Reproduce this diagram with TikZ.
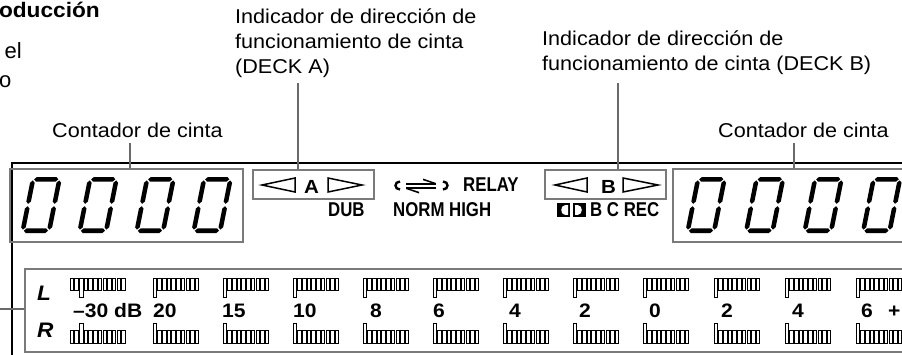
\documentclass[tikz,border=0pt]{standalone}
\usepackage{fontspec}
\setmainfont{Liberation Sans}
\usepackage{graphicx}
\definecolor{framegray}{HTML}{7A7A7A}
\definecolor{leadgray}{HTML}{6A6A6A}
\newcommand\wx[1]{\scalebox{1.08}[1]{#1}}
\newcommand\cx[1]{\scalebox{0.84}[1]{#1}}
\newcommand\hsegp[3]{\fill (#1,#3) -- ({#1+2.3},{#3-2.3}) -- ({#2-2.3},{#3-2.3}) -- (#2,#3) -- ({#2-2.3},{#3+2.3}) -- ({#1+2.3},{#3+2.3}) -- cycle;}
\newcommand\vsegp[3]{\fill (#1,#2) -- ({#1+2.3},{#2+2.3}) -- ({#1+2.3},{#3-2.3}) -- (#1,#3) -- ({#1-2.3},{#3-2.3}) -- ({#1-2.3},{#2+2.3}) -- cycle;}
\newcommand\digitzero[2]{%
  \begin{scope}[shift={(#1,#2)}, xslant=0.2]
    \hsegp{3.4}{27.6}{-53.7}
    \hsegp{3.4}{27.6}{-2.3}
    \vsegp{2.3}{-52.6}{-29.2}
    \vsegp{2.3}{-26.8}{-3.4}
    \vsegp{28.7}{-52.6}{-29.2}
    \vsegp{28.7}{-26.8}{-3.4}
  \end{scope}}
\newcommand\barsL[3]{\foreach \k in {0,...,#2}{%
  \pgfmathsetmacro\bx{#1+4.7*\k}%
  \ifnum\k=#3 \draw[barst] (\bx,278) rectangle ({\bx+3.5},297);%
  \else \draw[barst] (\bx,278) rectangle ({\bx+3.5},290);\fi}}
\newcommand\barsR[3]{\foreach \k in {0,...,#2}{%
  \pgfmathsetmacro\bx{#1+4.7*\k}%
  \ifnum\k=#3 \draw[barst] (\bx,323) rectangle ({\bx+3.5},343);%
  \else \draw[barst] (\bx,330) rectangle ({\bx+3.5},343);\fi}}
\tikzset{
  lbl/.style={font=\fontsize{20}{22}\selectfont, inner sep=0pt, anchor=base west},
  bld/.style={font=\fontsize{19.5}{22}\selectfont\bfseries, inner sep=0pt, anchor=base west},
  cnd/.style={font=\fontsize{20}{22}\selectfont\bfseries, inner sep=0pt, anchor=base west},
  leader/.style={draw=leadgray, line width=2pt},
  frame/.style={draw=framegray, line width=2.3pt, inner sep=0pt},
  panel/.style={draw=black, line width=2pt},
  barst/.style={draw=black, line width=0.8pt, fill=white},
  tri/.style={draw=black, line width=1.5pt, line join=miter},
}
\begin{document}
\begin{tikzpicture}[x=1pt, y=-1pt]
\useasboundingbox (0,0) rectangle (902,354);
% paragraph fragments
\node[font=\fontsize{21}{22}\selectfont\bfseries, inner sep=0pt, anchor=base east] (ttl) at (100,17) {\wx{oducción}};
\node[font=\fontsize{22}{22}\selectfont, inner sep=0pt, anchor=base east] (pel) at (22,58) {el};
\node[font=\fontsize{22}{22}\selectfont, inner sep=0pt, anchor=base east] (po) at (11.5,87) {o};
% labels
\node[lbl] (dA1) at (235,23) {\wx{Indicador de dirección de}};
\node[lbl] (dA2) at (235,48) {\wx{funcionamiento de cinta}};
\node[lbl] (dA3) at (235,73) {\wx{(DECK A)}};
\node[lbl] (dB1) at (542,45) {\wx{Indicador de dirección de}};
\node[lbl] (dB2) at (542,70) {\wx{funcionamiento de cinta (DECK B)}};
\node[lbl] (cL) at (52,137) {\wx{Contador de cinta}};
\node[lbl] (cR) at (718,137) {\wx{Contador de cinta}};
% panel
\coordinate (pTL) at (12,163);
\coordinate (pTR) at (904,163);
\coordinate (pBL) at (12,356);
\draw[panel] (pTR) -- (pTL) -- (pBL);
% boxes
\node[frame, minimum width=233pt, minimum height=73pt] (boxL) at (126.5,205.5) {};
\node[frame, minimum width=121pt, minimum height=29pt] (boxA) at (313.5,184.5) {};
\node[frame, minimum width=121pt, minimum height=29pt] (boxB) at (605.5,184.5) {};
\node[frame, minimum width=240pt, minimum height=73pt] (boxR) at (793,205.5) {};
\node[frame, minimum width=890pt, minimum height=83pt] (meter) at (470,310.5) {};
% leaders
\coordinate (lA) at (298,83);
\coordinate (lB) at (618,83);
\coordinate (lCL) at (130,143);
\coordinate (lCR) at (794,143);
\coordinate (lM) at (-2,309);
\draw[leader] (lA) -- (lA |- boxA.north);
\draw[leader] (lB) -- (lB |- boxB.north);
\draw[leader] (lCL) -- (lCL |- boxL.north);
\draw[leader] (lCR) -- (lCR |- boxR.north);
\draw[leader] (lM) -- (lM -| meter.west);
% counters
\digitzero{20}{233}\digitzero{77}{233}\digitzero{134}{233}\digitzero{191}{233}
\digitzero{685}{233}\digitzero{743.5}{233}\digitzero{802}{233}\digitzero{860.5}{233}
% deck A
\draw[tri] (262,185) -- (295,178) -- (295,192) -- cycle;
\draw[tri] (362,185) -- (328,178) -- (328,192) -- cycle;
\node[font=\fontsize{19}{20}\selectfont\bfseries, inner sep=0pt, anchor=base] (lA1) at (311.5,193) {\wx{A}};
\node[cnd] (dub) at (328,216.5) {\cx{DUB}};
% relay
\draw[line width=2.4pt] (400,181.5) .. controls (394,181.5) and (394,189.5) .. (400,189.5);
\draw[line width=2.4pt] (443,181.5) .. controls (449,181.5) and (449,189.5) .. (443,189.5);
\fill (406,183) -- (436,183) -- (436,185) -- (406,185) -- cycle;
\fill (436,183) -- (423,178.5) -- (423,180.2) -- (431.5,183) -- cycle;
\fill (406,187) -- (436,187) -- (436,189) -- (406,189) -- cycle;
\fill (406,189) -- (419,193.5) -- (419,191.8) -- (410.5,189) -- cycle;
\node[cnd] (relay) at (463,191.5) {\cx{RELAY}};
\node[cnd] (normhigh) at (393,216.5) {\cx{NORM HIGH}};
% deck B
\draw[tri] (555,185) -- (587,178) -- (587,192) -- cycle;
\draw[tri] (658,185) -- (623,178) -- (623,192) -- cycle;
\node[font=\fontsize{19}{20}\selectfont\bfseries, inner sep=0pt, anchor=base] (lB1) at (608.5,193) {\wx{B}};
\fill (557,203) rectangle (570,217);
\fill[white] (565,205.2) -- (568,205.2) -- (568,214.8) -- (565,214.8) .. controls (560,214.8) and (560,205.2) .. (565,205.2) -- cycle;
\fill (573,203) rectangle (586,217);
\fill[white] (575,205.2) -- (578,205.2) .. controls (583,205.2) and (583,214.8) .. (578,214.8) -- (575,214.8) -- cycle;
\node[cnd] (bcrec) at (590,216.5) {\cx{B C REC}};
% meter
\node[font=\fontsize{21}{22}\selectfont\bfseries\itshape, inner sep=0pt, anchor=base west] (mL) at (37,300) {\wx{L}};
\node[font=\fontsize{21}{22}\selectfont\bfseries\itshape, inner sep=0pt, anchor=base west] (mR) at (37,337) {\wx{R}};
\barsL{70}{11}{2}
\barsR{70}{11}{2}
\foreach \gx in {153,223,293,363,433,503,573,643,714,785,856}{
  \barsL{\gx}{9}{0}
  \barsR{\gx}{9}{0}
}
\node[bld] (n30) at (73,317) {\wx{–30 dB}};
\node[bld] (n20) at (153,317) {\wx{20}};
\node[bld] (n15) at (222,317) {\wx{15}};
\node[bld] (n10) at (293,317) {\wx{10}};
\node[bld] (n8) at (370,317) {\wx{8}};
\node[bld] (n6) at (433,317) {\wx{6}};
\node[bld] (n4) at (509,317) {\wx{4}};
\node[bld] (n2) at (579,317) {\wx{2}};
\node[bld] (n0) at (649,317) {\wx{0}};
\node[bld] (p2) at (721,317) {\wx{2}};
\node[bld] (p4) at (792,317) {\wx{4}};
\node[bld] (p6) at (861,317) {\wx{6}};
\node[bld] (pplus) at (888,317) {\wx{+}};
\end{tikzpicture}
\end{document}
